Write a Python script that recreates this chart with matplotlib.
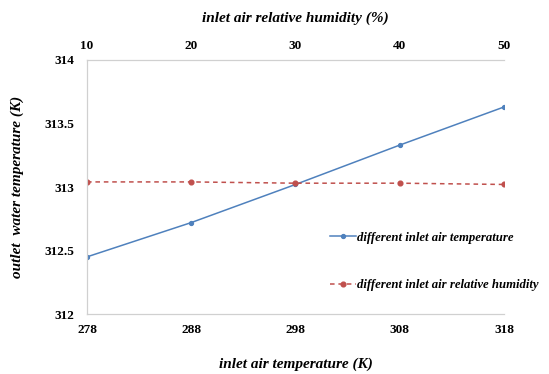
import matplotlib
matplotlib.use("Agg")
import matplotlib.pyplot as plt

# outlet water temperature vs inlet air temperature / relative humidity
air_temp = [278, 288, 298, 308, 318]
humidity = [10, 20, 30, 40, 50]
t_out_temp = [312.45, 312.72, 313.02, 313.33, 313.63]
t_out_hum = [313.04, 313.04, 313.03, 313.03, 313.02]

plt.rcParams['font.family'] = 'Liberation Serif'
lab = dict(fontsize=11, fontweight='bold', fontstyle='italic')

fig = plt.figure(figsize=(5.49, 3.74), dpi=100)
ax = fig.add_axes([0.1585, 0.1604, 0.7595, 0.6792])
ax2 = ax.twiny()

l1, = ax.plot(air_temp, t_out_temp, '-o', color='#4f81bd', lw=1.1, ms=2.8)
l2, = ax2.plot(humidity, t_out_hum, '--o', color='#c0504d', lw=1.1, ms=3.4,
               dashes=(3, 2.5))

ax.set_xlim(278, 318)
ax.set_ylim(312, 314)
ax.set_xticks(air_temp)
ax.set_yticks([312, 312.5, 313, 313.5, 314])
ax.set_yticklabels(['312', '312.5', '313', '313.5', '314'])
ax2.set_xlim(10, 50)
ax2.set_xticks(humidity)

for a in (ax, ax2):
    a.tick_params(length=0, labelsize=9.5)
    for t in a.get_xticklabels() + a.get_yticklabels():
        t.set_fontweight('bold')
    for s in a.spines.values():
        s.set_color('#d0d0d0')
        s.set_linewidth(0.8)
    a.spines['right'].set_visible(False)
ax.tick_params(axis='x', pad=7)
ax.tick_params(axis='y', pad=9)
ax2.tick_params(axis='x', pad=6)

ax.set_xlabel('inlet air temperature (K)', labelpad=16, **lab)
ax.set_ylabel('outlet  water temperature (K)', labelpad=15, **lab)
ax2.set_xlabel('inlet air relative humidity (%)', labelpad=13, **lab)

fig.legend([l1, l2], ['different inlet air temperature',
                      'different inlet air relative humidity'],
           loc='center left', bbox_to_anchor=(0.601, 0.301),
           frameon=False, handlelength=2.0, handletextpad=0.15,
           labelspacing=2.75, borderpad=0, borderaxespad=0,
           prop=dict(family='Liberation Serif', size=9.2,
                     weight='bold', style='italic'))

fig.savefig('out.png', dpi=100)
